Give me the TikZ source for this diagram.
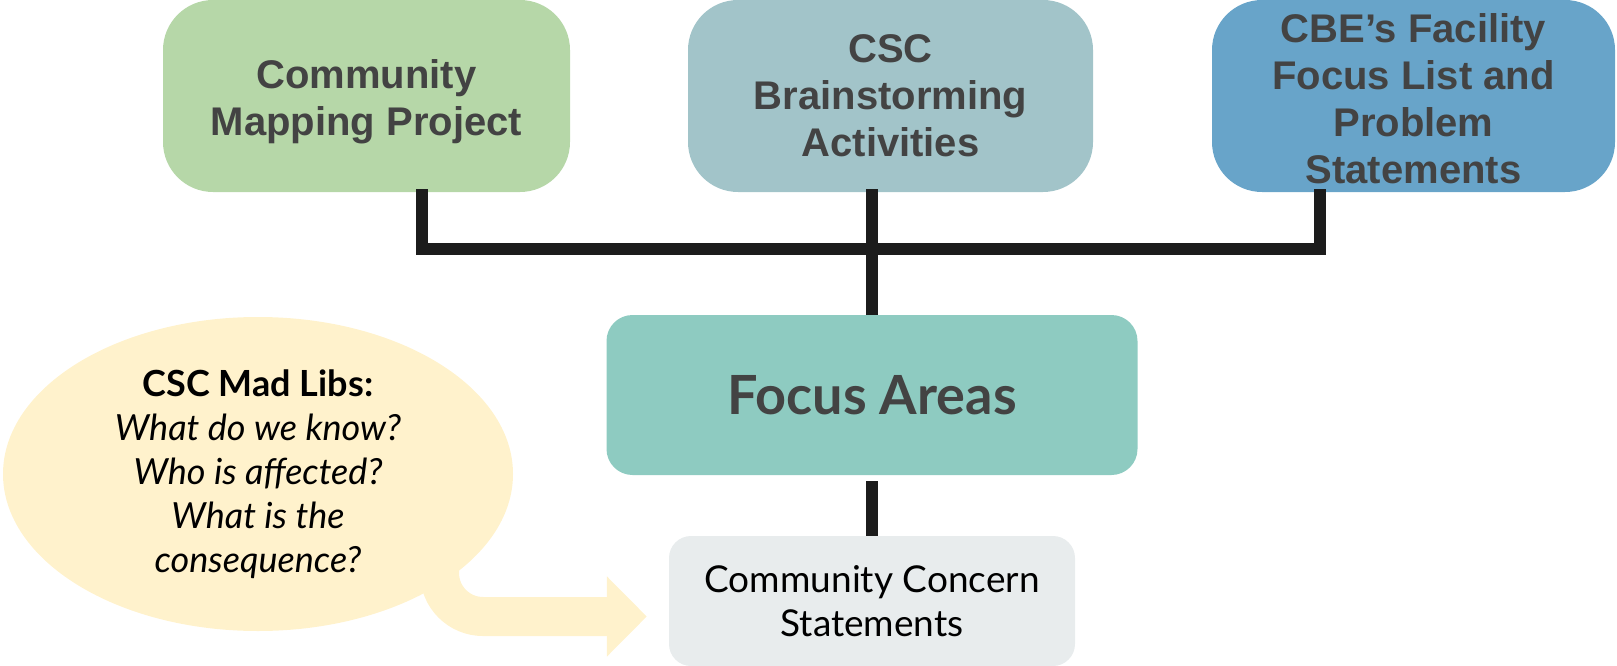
\documentclass[tikz,border=0pt]{standalone}
\usepackage{fontspec}
\setmainfont{Lato}
\newfontfamily\arialfont{Liberation Sans}
\usetikzlibrary{shapes.geometric,arrows.meta}
\definecolor{cgreen}{HTML}{B6D7A8}
\definecolor{cteal}{HTML}{A2C4C9}
\definecolor{cblue}{HTML}{68A4C9}
\definecolor{cfocus}{HTML}{8ECBC1}
\definecolor{cgray}{HTML}{E8ECED}
\definecolor{ccream}{HTML}{FFF2CC}
\definecolor{cline}{HTML}{1C1C1C}
\definecolor{ctext}{HTML}{434343}
\tikzset{
  topbox/.style={rectangle, rounded corners=50pt, minimum height=192pt, inner sep=0pt, align=center,
    text=ctext, font=\arialfont\bfseries\fontsize{40}{47}\selectfont},
  focusbox/.style={rectangle, rounded corners=26pt, fill=cfocus, minimum width=531pt, minimum height=160pt,
    inner sep=0pt, align=center, text=ctext, font=\bfseries\fontsize{54}{62}\selectfont},
  ccbox/.style={rectangle, rounded corners=22pt, fill=cgray, minimum width=406pt, minimum height=130pt,
    inner sep=0pt, align=center, text=black, font=\fontsize{37}{44}\selectfont},
  bubble/.style={ellipse, fill=ccream, minimum width=510pt, minimum height=314pt, inner sep=0pt,
    align=center, text=black, font=\fontsize{36}{44}\selectfont},
  joiner/.style={draw=cline, line width=12pt, line join=miter, line cap=butt},
  madarrow/.style={draw=ccream, line width=39pt, line cap=butt,
    -{Triangle[length=40pt,width=78pt]}, shorten >=22pt}
}
\begin{document}
\begin{tikzpicture}[x=1pt,y=-1pt]
\useasboundingbox (0,0) rectangle (1617,666);
\node[topbox, fill=cgreen, minimum width=407pt] (b1) at (366.5,96) {\rule{0pt}{40pt}Community\\Mapping Project};
\node[topbox, fill=cteal, minimum width=405pt] (b2) at (890.5,96) {CSC\\Brainstorming\\Activities};
\node[topbox, fill=cblue, minimum width=403pt] (b3) at (1413.5,96) {\rule{0pt}{35pt}CBE’s Facility\\Focus List and\\Problem\\Statements};
\node[focusbox] (fa) at (872,395) {Focus Areas};
\node[ccbox] (cc) at (872,601) {Community Concern\\Statements};
\node[bubble] (ml) at (258,474) {\textbf{CSC Mad Libs:}\\\textit{What do we know?}\\\textit{Who is affected?}\\\textit{What is the}\\\textit{consequence?}};
\coordinate (bar) at (0,249);
\draw[joiner] ([xshift=55.5pt,yshift=3pt]b1.south) |- (bar -| fa.north);
\draw[joiner] ([xshift=-93.5pt,yshift=3pt]b3.south) |- (bar -| fa.north);
\draw[joiner] ([yshift=3pt]fa.north |- b2.south) -- (fa.north);
\draw[joiner] ([yshift=-6pt]fa.south) -- (fa.south |- cc.north);
\draw[madarrow] ([xshift=181.5pt,yshift=-86pt]ml.center) -- (439.5,573) .. controls (439.5,597) and (459,616.5) .. (483,616.5) -- ([yshift=-15.5pt]cc.west);
\end{tikzpicture}
\end{document}
